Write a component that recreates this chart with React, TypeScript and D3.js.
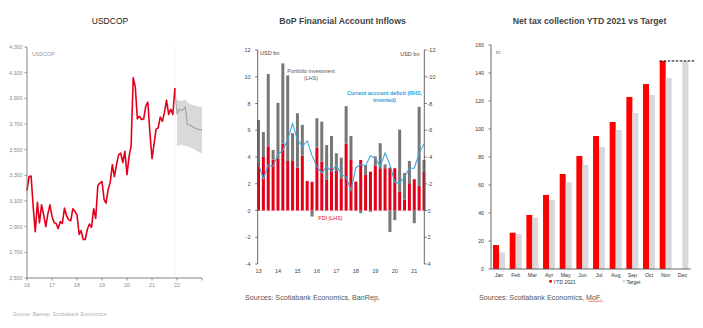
import React from 'react';
import * as d3 from 'd3';

const FONT = '"Liberation Sans", Arial, sans-serif';

// ---------- Panel 1: USDCOP ----------
const usdcopStartYear = 2016;
const usdcopValues = [
  3180, 3290, 3295, 3050, 2860, 3090, 2930, 3070, 2990, 2900, 3000, 3070,
  2980, 2930, 2925, 2885, 2940, 2925, 3045, 2985, 2955, 2945, 3040, 3020,
  2990, 2840, 2870, 2800, 2800, 2880, 2920, 2895, 3040, 2965, 3220, 3240,
  3252, 3110, 3083, 3190, 3245, 3383, 3290, 3383, 3461, 3474, 3400, 3487,
  3305, 3450, 3530, 4060, 3990, 3740, 3760, 3735, 3740, 3840, 3870, 3630,
  3430, 3550, 3660, 3670, 3755, 3720, 3790, 3885, 3775, 3815, 3775, 3980,
];
// forecast Dec 2021 .. Jan 2023
const forecastValues = [3980, 3775, 3815, 3805, 3812, 3833, 3700, 3692, 3685, 3675, 3665, 3660, 3656, 3656];
// band Jan 2022 .. Jan 2023
const bandUpper = [3890, 3885, 3880, 3885, 3890, 3870, 3860, 3852, 3848, 3842, 3838, 3835, 3833];
const bandLower = [3526, 3532, 3539, 3535, 3530, 3526, 3520, 3513, 3505, 3495, 3485, 3478, 3474];
const usdcopYTicks = [2500, 2700, 2900, 3100, 3300, 3500, 3700, 3900, 4100, 4300];
const usdcopXTicks = [2016, 2017, 2018, 2019, 2020, 2021, 2022, 2023];

// ---------- Panel 2: BoP ----------
const bopYearLabels = ['13', '14', '15', '16', '17', '18', '19', '20', '21'];
const fdi = [
  3.6, 4.0, 4.8, 3.8, 3.9, 5.0, 3.7, 3.7, 3.2, 4.1, 2.2, 2.15,
  4.7, 3.66, 2.29, 3.16, 2.95, 2.4, 5.0, 3.78, 2.16, 3.78, 2.66, 2.9,
  3.33, 3.16, 3.16, 3.2, 3.16, 1.4, 0.8, 2.04, 2.34, 1.84, 2.9,
];
const portfolio = [
  3.17, 1.87, 5.4, 0.73, 4.15, 6.0, 6.4, 2.08, 4.07, 2.3, 0, -0.45,
  2.2, 2.98, 2.61, 2.41, 1.33, 1.55, 2.8, 1.79, 0, -0.2, 0.74, -0.1,
  0.72, 1.87, 0.29, -1.6, -0.72, 4.65, 2.0, 1.66, -0.95, 5.91, 0.88,
];
const currentAccount = [
  -3.5, -2.35, -3.4, -3.3, -4.2, -4.5, -5.3, -6.5, -5.3, -4.8, -5.2, -4.1,
  -3.3, -2.8, -3.3, -2.9, -3.4, -2.7, -2.5, -1.5, -3.2, -3.45, -3.35, -4.1,
  -3.9, -3.3, -4.3, -3.4, -2.1, -2.05, -2.5, -3.16, -3.16, -4.28, -5.0,
];
const bopLeftTicks = [-4, -2, 0, 2, 4, 6, 8, 10, 12];
const bopRightTicks = [-12, -10, -8, -6, -4, -2, 0, 2, 4];

// ---------- Panel 3: Net tax ----------
const months = ['Jan', 'Feb', 'Mar', 'Apr', 'May', 'Jun', 'Jul', 'Aug', 'Sep', 'Oct', 'Nov', 'Dec'];
const ytd2021: (number | null)[] = [17.1, 25.9, 38.6, 52.9, 67.9, 80.7, 95, 105, 122.9, 132.1, 148.6, null];
const target = [11.9, 25, 36.9, 49.3, 61.9, 74.3, 87.1, 99.3, 111.4, 124.3, 136.4, 148.6];
const taxTicks = [0, 20, 40, 60, 80, 100, 120, 140, 160];

const RED = '#e3001b';

function Panel1() {
  const x = d3.scaleTime().domain([new Date(2016, 0, 1), new Date(2023, 0, 1)]).range([27, 202]);
  const y = d3.scaleLinear().domain([2500, 4300]).range([278, 47]);
  const hist = usdcopValues.map((v, i) => ({ d: new Date(usdcopStartYear, i, 1), v }));
  const fc = forecastValues.map((v, i) => ({ d: new Date(usdcopStartYear, 71 + i, 1), v }));
  const band = bandUpper.map((u, i) => ({ d: new Date(usdcopStartYear, 72 + i, 1), u, l: bandLower[i] }));
  const line = d3.line<{ d: Date; v: number }>().x((p) => x(p.d)).y((p) => y(p.v));
  const area = d3.area<{ d: Date; u: number; l: number }>().x((p) => x(p.d)).y0((p) => y(p.l)).y1((p) => y(p.u));
  const fmt = d3.format(',');
  const splitX = x(new Date(2021, 11, 1));
  return (
    <g>
      <text x={110} y={23.5} textAnchor="middle" fontSize={8.5} fill="#222">USDCOP</text>
      <line x1={splitX} x2={splitX} y1={47} y2={278} stroke="#ececec" strokeWidth={0.8} />
      <path d={area(band) || ''} fill="#d9d9d9" />
      <path d={line(fc) || ''} fill="none" stroke="#a6a6a6" strokeWidth={1.2} />
      <path d={line(hist) || ''} fill="none" stroke={RED} strokeWidth={1.6} strokeLinejoin="round" />
      <line x1={27} x2={27} y1={47} y2={278} stroke="#777" strokeWidth={0.9} />
      <line x1={27} x2={202} y1={278} y2={278} stroke="#777" strokeWidth={0.9} />
      {usdcopYTicks.map((t) => (
        <g key={t}>
          <line x1={24.5} x2={27} y1={y(t)} y2={y(t)} stroke="#777" strokeWidth={0.8} />
          <text x={22.5} y={y(t) + 1.9} textAnchor="end" fontSize={5.3} fill="#8a8a8a">{fmt(t)}</text>
        </g>
      ))}
      {usdcopXTicks.map((yr) => {
        const xx = x(new Date(yr, 0, 1));
        return (
          <g key={yr}>
            <line x1={xx} x2={xx} y1={278} y2={280.5} stroke="#777" strokeWidth={0.8} />
            {yr < 2023 && (
              <text x={xx} y={287} textAnchor="middle" fontSize={5.3} fill="#8a8a8a">{String(yr).slice(2)}</text>
            )}
          </g>
        );
      })}
      <text x={32} y={56} fontSize={5.3} fill="#9a9a9a">USDCOP</text>
      <text x={13} y={316} fontSize={5.3} fill="#b0b0b0">Source: Banrep, Scotiabank Economics</text>
    </g>
  );
}

function Panel2() {
  const xq = d3.scaleLinear().domain([0, 34]).range([258.5, 424]);
  const yL = d3.scaleLinear().domain([-4, 12]).range([264, 50]);
  const yR = d3.scaleLinear().domain([-12, 4]).range([50, 264]);
  const bw = 3;
  const caLine = d3.line<number>().x((_, i) => xq(i)).y((v) => yR(v));
  return (
    <g>
      <text x={342.5} y={23.5} textAnchor="middle" fontSize={8.7} fontWeight="bold" fill="#444">BoP Financial Account Inflows</text>
      <line x1={257.7} x2={424.3} y1={yL(0)} y2={yL(0)} stroke="#f4c0c4" strokeWidth={0.6} />
      {fdi.map((f, i) => {
        const p = portfolio[i];
        const cx = xq(i);
        return (
          <g key={i}>
            <rect x={cx - bw / 2} y={yL(f)} width={bw} height={yL(0) - yL(f)} fill={RED} />
            {p > 0 && <rect x={cx - bw / 2} y={yL(f + p)} width={bw} height={yL(f) - yL(f + p)} fill="#777" />}
            {p < 0 && <rect x={cx - bw / 2} y={yL(0)} width={bw} height={yL(p) - yL(0)} fill="#777" />}
          </g>
        );
      })}
      <path d={caLine(currentAccount) || ''} fill="none" stroke="#3aa7dc" strokeWidth={1.1} />
      <line x1={257.7} x2={257.7} y1={50} y2={264} stroke="#555" strokeWidth={0.9} />
      <line x1={424.3} x2={424.3} y1={50} y2={264} stroke="#555" strokeWidth={0.9} />
      {bopLeftTicks.map((t) => (
        <g key={'l' + t}>
          <line x1={255.2} x2={257.7} y1={yL(t)} y2={yL(t)} stroke="#555" strokeWidth={0.8} />
          <text x={250.5} y={yL(t) + 2} textAnchor="end" fontSize={5.5} fill="#444">{t < 0 ? '-' + Math.abs(t) : t}</text>
        </g>
      ))}
      {bopRightTicks.map((t) => (
        <g key={'r' + t}>
          <line x1={424.3} x2={426.8} y1={yR(t)} y2={yR(t)} stroke="#555" strokeWidth={0.8} />
          <text x={427.5} y={yR(t) + 2} textAnchor="start" fontSize={5.5} fill="#444">{t < 0 ? '-' + Math.abs(t) : t}</text>
        </g>
      ))}
      {bopYearLabels.map((lab, k) => (
        <text key={lab} x={xq(k * 4)} y={273} textAnchor="middle" fontSize={5.5} fill="#444">{lab}</text>
      ))}
      <text x={260} y={55} fontSize={5.5} fill="#444">USD bn</text>
      <text x={419.5} y={55.5} textAnchor="end" fontSize={5.5} fill="#444">USD bn</text>
      <text x={311} y={73} textAnchor="middle" fontSize={5.4} fill="#555">Portfolio investment</text>
      <text x={311} y={80} textAnchor="middle" fontSize={5.4} fill="#555">(LHS)</text>
      <text x={384.5} y={95} textAnchor="middle" fontSize={5.4} fontWeight="bold" fill="#2a9fdc">Current account deficit (RHS,</text>
      <text x={384.5} y={102} textAnchor="middle" fontSize={5.4} fontWeight="bold" fill="#2a9fdc">inverted)</text>
      <text x={330.5} y={220.3} textAnchor="middle" fontSize={5.4} fill={RED}>FDI (LHS)</text>
      <text x={245} y={299.5} fontSize={7.2} fill="#555">Sources: Scotiabank Economics, BanRep.</text>
    </g>
  );
}

function Panel3() {
  const x = d3.scaleBand<string>().domain(months).range([490.7, 690.7]).paddingInner(0.28).paddingOuter(0.14);
  const y = d3.scaleLinear().domain([0, 160]).range([269, 45]);
  const bw = x.bandwidth();
  const half = bw / 2;
  const decTarget = target[11];
  return (
    <g>
      <text x={589.5} y={23.5} textAnchor="middle" fontSize={8.7} fontWeight="bold" fill="#444">Net tax collection YTD 2021 vs Target</text>
      {months.map((m, i) => {
        const v = ytd2021[i];
        const t = target[i];
        const x0 = x(m) as number;
        return (
          <g key={m}>
            {v != null && <rect x={x0} y={y(v)} width={half} height={y(0) - y(v)} fill="#ff0000" />}
            <rect x={x0 + half} y={y(t)} width={half} height={y(0) - y(t)} fill="#d9d9d9" />
            <text x={x0 + half} y={277} textAnchor="middle" fontSize={5.3} fill="#333">{m}</text>
          </g>
        );
      })}
      <line x1={(x('Nov') as number)} x2={(x('Dec') as number) + bw + 6} y1={y(decTarget)} y2={y(decTarget)} stroke="#000" strokeWidth={1} strokeDasharray="2.5,1.5" />
      <line x1={491} x2={491} y1={45} y2={269} stroke="#555" strokeWidth={0.9} />
      <line x1={491} x2={690.7} y1={269} y2={269} stroke="#555" strokeWidth={0.9} />
      {taxTicks.map((t) => (
        <g key={t}>
          <line x1={488.5} x2={491} y1={y(t)} y2={y(t)} stroke="#555" strokeWidth={0.8} />
          <text x={484} y={y(t) + 1.9} textAnchor="end" fontSize={5.2} fill="#333">{t}</text>
        </g>
      ))}
      <text x={496} y={54} fontSize={5.3} fill="#666">tn</text>
      <rect x={549.3} y={280} width={2.6} height={2.6} fill="#ff0000" />
      <text x={553} y={283.8} fontSize={5} fill="#333">YTD 2021</text>
      <rect x={622.6} y={280} width={2.6} height={2.6} fill="#d9d9d9" />
      <text x={626.5} y={283.8} fontSize={5} fill="#333">Target</text>
      <text x={479} y={299.5} fontSize={7.2} fill="#555">Sources: Scotiabank Economics, MoF.</text>
      <path d="M588.5 302 l1.2 -1.2 l1.2 1.2 l1.2 -1.2 l1.2 1.2 l1.2 -1.2 l1.2 1.2 l1.2 -1.2 l1.2 1.2 l1.2 -1.2 l1.2 1.2 l1.2 -1.2 l1.2 1.2" fill="none" stroke="#e33" strokeWidth={0.6} />
    </g>
  );
}

export default function App() {
  return (
    <svg
      width={703}
      height={328}
      viewBox="0 0 703 328"
      style={{ position: 'absolute', left: 0, top: 0, background: '#fff', fontFamily: FONT }}
    >
      <rect x={0} y={0} width={703} height={328} fill="#fff" />
      <Panel1 />
      <Panel2 />
      <Panel3 />
    </svg>
  );
}
